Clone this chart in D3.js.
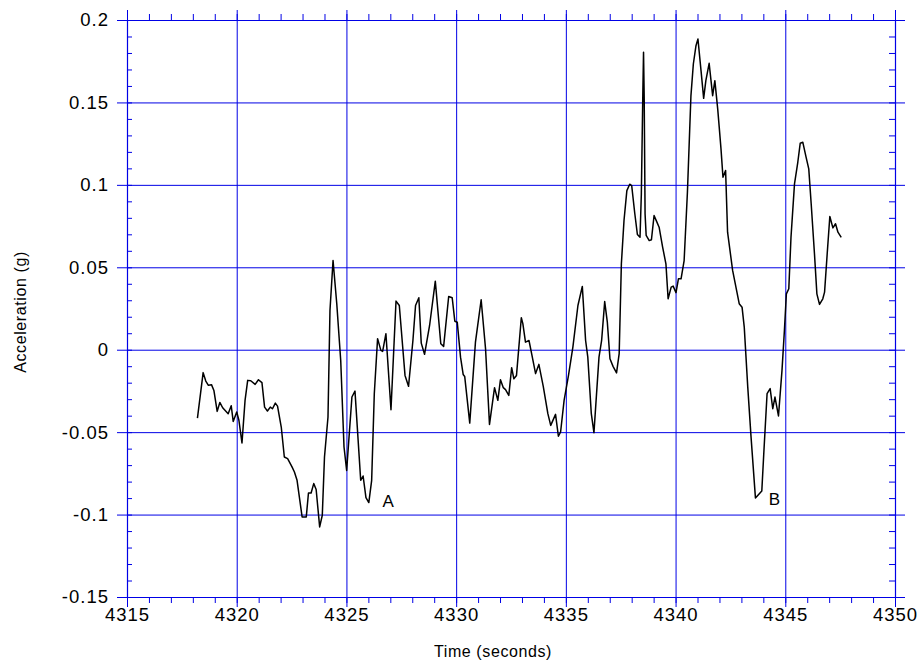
<!DOCTYPE html>
<html>
<head>
<meta charset="utf-8">
<script src="https://cdn.jsdelivr.net/npm/d3@7"></script>
<style>
  html, body { margin: 0; padding: 0; background: #fff; }
  svg { display: block; font-family: "Liberation Sans", Arial, sans-serif; }
</style>
</head>
<body>
<svg id="chart" width="923" height="670"></svg>
<script>
// ---- data ----
const times = [
  4318.21, 4318.47, 4318.59, 4318.71, 4318.85, 4318.96, 4319.11, 4319.23, 4319.36, 4319.61,
  4319.75, 4319.84, 4320.00, 4320.10, 4320.24, 4320.38, 4320.50, 4320.64, 4320.84, 4320.99,
  4321.15, 4321.27, 4321.40, 4321.53, 4321.63, 4321.76, 4321.86, 4322.03, 4322.17, 4322.32,
  4322.52, 4322.63, 4322.75, 4322.98, 4323.17, 4323.27, 4323.39, 4323.51, 4323.62, 4323.78,
  4323.90, 4324.00, 4324.16, 4324.25, 4324.39, 4324.56, 4324.74, 4324.89, 4325.01, 4325.25,
  4325.39, 4325.65, 4325.76, 4325.89, 4326.02, 4326.15, 4326.27, 4326.42, 4326.57, 4326.65,
  4326.80, 4327.03, 4327.26, 4327.41, 4327.67, 4327.83, 4328.03, 4328.15, 4328.30, 4328.41,
  4328.56, 4328.79, 4329.05, 4329.30, 4329.43, 4329.66, 4329.82, 4329.94, 4330.05, 4330.20,
  4330.32, 4330.39, 4330.62, 4330.88, 4331.14, 4331.34, 4331.52, 4331.75, 4331.90, 4332.02,
  4332.15, 4332.25, 4332.40, 4332.53, 4332.63, 4332.75, 4332.97, 4333.04, 4333.16, 4333.32,
  4333.44, 4333.62, 4333.77, 4333.97, 4334.18, 4334.31, 4334.53, 4334.66, 4334.76, 4334.92,
  4335.12, 4335.32, 4335.55, 4335.75, 4335.90, 4336.00, 4336.16, 4336.28, 4336.51, 4336.63,
  4336.77, 4336.89, 4337.01, 4337.15, 4337.31, 4337.43, 4337.53, 4337.65, 4337.78, 4337.91,
  4338.00, 4338.14, 4338.26, 4338.38, 4338.44, 4338.51, 4338.54, 4338.57, 4338.61, 4338.66,
  4338.80, 4338.90, 4339.02, 4339.13, 4339.25, 4339.41, 4339.56, 4339.66, 4339.80, 4339.89,
  4340.02, 4340.13, 4340.25, 4340.39, 4340.54, 4340.70, 4340.81, 4340.93, 4341.02, 4341.16,
  4341.28, 4341.38, 4341.53, 4341.69, 4341.79, 4341.92, 4341.99, 4342.07, 4342.16, 4342.28,
  4342.37, 4342.60, 4342.90, 4343.03, 4343.13, 4343.29, 4343.44, 4343.64, 4343.93, 4344.02,
  4344.17, 4344.31, 4344.43, 4344.53, 4344.69, 4344.85, 4344.96, 4345.05, 4345.16, 4345.26,
  4345.42, 4345.57, 4345.68, 4345.80, 4345.95, 4346.07, 4346.18, 4346.33, 4346.44, 4346.56,
  4346.71, 4346.79, 4346.91, 4347.03, 4347.17, 4347.29, 4347.40, 4347.55
];
const accel = [
  -0.0415, -0.0139, -0.0190, -0.0216, -0.0212, -0.0247, -0.0374, -0.0320, -0.0352, -0.0388,
  -0.0340, -0.0435, -0.0378, -0.0428, -0.0566, -0.0307, -0.0186, -0.0188, -0.0210, -0.0182,
  -0.0200, -0.0348, -0.0372, -0.0348, -0.0358, -0.0324, -0.0342, -0.0469, -0.0651, -0.0661,
  -0.0711, -0.0742, -0.0792, -0.1014, -0.1014, -0.0869, -0.0869, -0.0812, -0.0848, -0.1075,
  -0.1004, -0.0651, -0.0408, 0.0238, 0.0541, 0.0279, -0.0065, -0.0590, -0.0732, -0.0287,
  -0.0251, -0.0792, -0.0766, -0.0897, -0.0927, -0.0792, -0.0267, 0.0067, -0.0004, -0.0010,
  0.0097, -0.0364, 0.0295, 0.0268, -0.0156, -0.0222, 0.0056, 0.0268, 0.0315, 0.0040,
  -0.0028, 0.0147, 0.0416, 0.0036, 0.0020, 0.0323, 0.0315, 0.0173, 0.0167, -0.0045,
  -0.0150, -0.0162, -0.0445, 0.0046, 0.0303, 0.0006, -0.0453, -0.0230, -0.0307, -0.0182,
  -0.0230, -0.0242, -0.0277, -0.0109, -0.0176, -0.0156, 0.0194, 0.0158, 0.0046, 0.0056,
  -0.0024, -0.0145, -0.0089, -0.0222, -0.0388, -0.0459, -0.0392, -0.0525, -0.0499, -0.0307,
  -0.0156, 0.0016, 0.0268, 0.0384, 0.0056, -0.0045, -0.0388, -0.0503, -0.0045, 0.0056,
  0.0292, 0.0167, -0.0055, -0.0101, -0.0141, -0.0024, 0.0521, 0.0784, 0.0965, 0.1004,
  0.0996, 0.0828, 0.0699, 0.0682, 0.0945, 0.1572, 0.1804, 0.1531, 0.0824, 0.0693,
  0.0662, 0.0667, 0.0814, 0.0780, 0.0743, 0.0622, 0.0521, 0.0309, 0.0380, 0.0386,
  0.0346, 0.0430, 0.0430, 0.0541, 0.0955, 0.1540, 0.1733, 0.1844, 0.1885, 0.1693,
  0.1525, 0.1632, 0.1737, 0.1541, 0.1632, 0.1461, 0.1349, 0.1218, 0.1046, 0.1087,
  0.0713, 0.0481, 0.0279, 0.0258, 0.0137, -0.0227, -0.0530, -0.0899, -0.0857, -0.0630,
  -0.0267, -0.0236, -0.0358, -0.0287, -0.0402, -0.0125, 0.0117, 0.0339, 0.0370, 0.0682,
  0.1006, 0.1137, 0.1252, 0.1258, 0.1167, 0.1097, 0.0885, 0.0582, 0.0339, 0.0275,
  0.0309, 0.0349, 0.0582, 0.0808, 0.0739, 0.0764, 0.0713, 0.0682
];
const xTicks = [4315, 4320, 4325, 4330, 4335, 4340, 4345, 4350];
const xMinorTicks = d3.range(4315, 4350.01, 1);
const yTicks = [-0.15, -0.1, -0.05, 0, 0.05, 0.1, 0.15, 0.2];
const yMinorTicks = d3.range(-15, 20.01, 1).map(v => v / 100);
const annotations = [
  { label: "A", t: 4326.9, v: -0.0955 },
  { label: "B", t: 4344.5, v: -0.094 }
];
const xTitle = "Time (seconds)";
const yTitle = "Acceleration (g)";

// ---- layout ----
const mLeft = 127, mRight = 895, mTop = 20, mBottom = 597;
const gridColor = "#0000e6";

const svg = d3.select("#chart");
const x = d3.scaleLinear().domain([4315, 4350]).range([mLeft, mRight]);
const y = d3.scaleLinear().domain([-0.15, 0.2]).range([mBottom, mTop]);

const fmt = v => String(+v.toFixed(2));

function styleAxis(g) {
  g.selectAll("path.domain").attr("stroke", gridColor).attr("stroke-width", 1.2);
  g.selectAll(".tick line").attr("stroke", gridColor).attr("stroke-width", 1);
  g.selectAll("text").attr("fill", "#000").attr("font-size", 18.5)
    .attr("letter-spacing", "1px").attr("font-family", "'Liberation Sans', Arial, sans-serif");
}

// grid lines (vertical & horizontal), extending 10px beyond frame
svg.append("g").attr("transform", `translate(0,${mBottom + 10})`)
  .call(d3.axisBottom(x).tickValues(xTicks).tickSize(-(mBottom - mTop + 20)).tickFormat(""))
  .call(g => g.select(".domain").remove())
  .call(styleAxis);
svg.append("g").attr("transform", `translate(${mLeft - 10},0)`)
  .call(d3.axisLeft(y).tickValues(yTicks).tickSize(-(mRight - mLeft + 20)).tickFormat(""))
  .call(g => g.select(".domain").remove())
  .call(styleAxis);

// minor ticks: x outward (top & bottom), y inward (left & right)
svg.append("g").attr("transform", `translate(0,${mBottom})`)
  .call(d3.axisBottom(x).tickValues(xMinorTicks).tickSize(6).tickSizeOuter(0).tickFormat(""))
  .call(styleAxis);
svg.append("g").attr("transform", `translate(0,${mTop})`)
  .call(d3.axisTop(x).tickValues(xMinorTicks).tickSize(6).tickSizeOuter(0).tickFormat(""))
  .call(styleAxis);
svg.append("g").attr("transform", `translate(${mLeft},0)`)
  .call(d3.axisLeft(y).tickValues(yMinorTicks).tickSize(-5).tickSizeOuter(0).tickFormat(""))
  .call(styleAxis);
svg.append("g").attr("transform", `translate(${mRight},0)`)
  .call(d3.axisRight(y).tickValues(yMinorTicks).tickSize(-6).tickSizeOuter(0).tickFormat(""))
  .call(styleAxis);

// labelled axes
svg.append("g").attr("transform", `translate(0,${mBottom})`)
  .call(d3.axisBottom(x).tickValues(xTicks).tickSize(0).tickPadding(11).tickFormat(d3.format("d")))
  .call(g => g.select(".domain").remove())
  .call(styleAxis);
svg.append("g").attr("transform", `translate(${mLeft},0)`)
  .call(d3.axisLeft(y).tickValues(yTicks).tickSize(0).tickPadding(18).tickFormat(fmt))
  .call(g => g.select(".domain").remove())
  .call(styleAxis);

// data line
const pts = times.map((t, i) => [t, accel[i]]);
svg.append("path")
  .datum(pts)
  .attr("fill", "none")
  .attr("stroke", "#000")
  .attr("stroke-width", 1.5)
  .attr("stroke-linejoin", "round")
  .attr("d", d3.line().x(d => x(d[0])).y(d => y(d[1])));

// annotations
svg.selectAll("text.ann").data(annotations).enter().append("text")
  .attr("class", "ann")
  .attr("x", d => x(d.t)).attr("y", d => y(d.v))
  .attr("text-anchor", "middle")
  .attr("font-size", 17)
  .attr("fill", "#000")
  .text(d => d.label);

// axis titles
svg.append("text")
  .attr("x", 493).attr("y", 657)
  .attr("text-anchor", "middle")
  .attr("font-size", 16).attr("letter-spacing", "0.6px")
  .attr("fill", "#000")
  .text(xTitle);
svg.append("text")
  .attr("transform", "translate(26,312) rotate(-90)")
  .attr("text-anchor", "middle")
  .attr("font-size", 16).attr("letter-spacing", "0.6px")
  .attr("fill", "#000")
  .text(yTitle);
</script>
</body>
</html>
